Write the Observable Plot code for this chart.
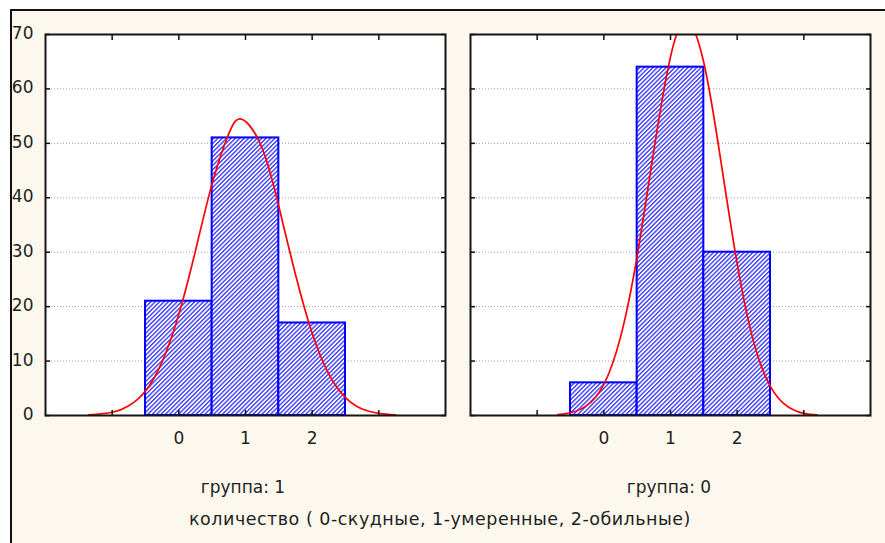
<!DOCTYPE html>
<html>
<head>
<meta charset="utf-8">
<script src="https://cdn.jsdelivr.net/npm/d3@7"></script>
<script src="https://cdn.jsdelivr.net/npm/@observablehq/plot@0.6"></script>
<style>
  html, body { margin: 0; padding: 0; background: #ffffff; }
  #wrap { position: relative; width: 885px; height: 543px; overflow: hidden; background: #ffffff;
          font-family: "DejaVu Sans", sans-serif; color: #222; }
  #panel { position: absolute; left: 10px; top: 9px; right: 0; bottom: 0; background: #fdf8ed;
           border-left: 2px solid #111; border-top: 2px solid #111; overflow: hidden; }
  .chart { position: absolute; }
  .lbl { position: absolute; transform: translateX(-50%); white-space: nowrap; font-size: 17px; color: #1e1e1e; }
  .cap { font-size: 17.5px; letter-spacing: 0.5px; }
</style>
</head>
<body>
<svg width="0" height="0" style="position:absolute">
  <defs>
    <pattern id="hatch" patternUnits="userSpaceOnUse" width="3.1" height="3.1" patternTransform="rotate(45)">
      <rect width="3.1" height="3.1" fill="#ffffff"></rect>
      <line x1="0.7" y1="-1" x2="0.7" y2="4.5" stroke="#3030ff" stroke-width="1.3"></line>
    </pattern>
  </defs>
</svg>
<div id="wrap">
  <div id="panel"></div>
</div>
<script>
// ---- data ----
const categories = [0, 1, 2];
const group1Counts = [21, 51, 17];   // группа: 1
const group0Counts = [6, 64, 30];    // группа: 0
const yTicks = [0, 10, 20, 30, 40, 50, 60, 70];
const gridTicks = [10, 20, 30, 40, 50, 60];
const xTickMarks = [-1, 0, 1, 2, 3];
const xLabels = [0, 1, 2];
const groupLabels = ["группа: 1", "группа: 0"];
const axisTitle = "количество ( 0-скудные, 1-умеренные, 2-обильные)";

// fitted normal curve (x, count)
const curve1X = [-1.35, -1.0, -0.75, -0.5, -0.25, 0, 0.25, 0.5, 0.75, 0.955, 1.25, 1.5, 1.75, 2.0, 2.25, 2.5, 2.75, 3.0, 3.25];
const curve1Y = [0.1, 0.6, 1.8, 4.5, 9.9, 18.6, 30.3, 42.6, 51.8, 54.4, 49.1, 38.4, 25.9, 15.1, 7.6, 3.3, 1.2, 0.4, 0.1];
const curve0X = [-0.69, -0.5, -0.25, 0, 0.25, 0.5, 0.75, 1.0, 1.24, 1.5, 1.75, 2.0, 2.25, 2.5, 2.75, 3.0, 3.2];
const curve0Y = [0.15, 0.5, 1.85, 5.7, 14.4, 29.3, 48.7, 65.9, 72.5, 64.8, 47.2, 27.9, 13.4, 5.3, 1.7, 0.4, 0.1];

const font = "\"DejaVu Sans\", sans-serif";

function makePanel(counts, cx, cy, showYLabels, width, marginLeft, marginRight) {
  const bars = categories.map((c, i) => ({c, v: counts[i]}));
  const curve = cx.map((x, i) => ({x, y: cy[i]}));
  const tickStyle = {tickSize: -5, text: null, label: null, stroke: "#111", strokeWidth: 1.5};
  const marks = [
    Plot.frame({fill: "#ffffff", stroke: null}),
    Plot.gridY({ticks: gridTicks, stroke: "#9a9a9a", strokeOpacity: 1, strokeWidth: 1, strokeDasharray: "1,2"}),
    Plot.rectY(bars, {x1: d => d.c - 0.5, x2: d => d.c + 0.5, y1: 0, y2: "v",
                      fill: "url(#hatch)", stroke: "#0000ff", strokeWidth: 2}),
    Plot.line(curve, {x: "x", y: "y", stroke: "#ff0000", strokeWidth: 1.7, curve: "natural", clip: true}),
    Plot.axisY({anchor: "left", ticks: yTicks, ...tickStyle}),
    Plot.axisY({anchor: "right", ticks: yTicks, ...tickStyle}),
    Plot.axisX({anchor: "bottom", ticks: xTickMarks, ...tickStyle}),
    Plot.axisX({anchor: "top", ticks: xTickMarks, ...tickStyle}),
    Plot.axisX({anchor: "bottom", ticks: xLabels, tickSize: 0, tickPadding: 16, label: null,
                tickFormat: d => String(d), fill: "#1e1e1e", fontSize: 17}),
    Plot.frame({stroke: "#151515", strokeWidth: 2})
  ];
  if (showYLabels) {
    marks.push(Plot.axisY({anchor: "left", ticks: yTicks, tickSize: 0, tickPadding: 12, label: null,
                           tickFormat: d => String(d), fill: "#1e1e1e", fontSize: 17, dy: -1}));
  }
  return Plot.plot({
    width, height: 460,
    marginLeft, marginRight, marginTop: 34, marginBottom: 45,
    x: {domain: [-2, 4], label: null},
    y: {domain: [0, 70], label: null},
    style: {fontFamily: font, fontSize: "17px", background: "transparent", overflow: "visible", color: "#1e1e1e"},
    marks
  });
}

const panel = document.getElementById("panel");
const offX = 12, offY = 11; // panel content origin in page coords

const left = makePanel(group1Counts, curve1X, curve1Y, true, 452, 45, 7);
left.classList.add("chart");
left.style.left = (0 - offX) + "px";
left.style.top = (0 - offY) + "px";
panel.appendChild(left);

const right = makePanel(group0Counts, curve0X, curve0Y, false, 440, 18, 22);
right.classList.add("chart");
right.style.left = (452 - offX) + "px";
right.style.top = (0 - offY) + "px";
panel.appendChild(right);

function addLabel(text, x, y, cls) {
  const d = document.createElement("div");
  d.className = "lbl" + (cls ? " " + cls : "");
  d.textContent = text;
  d.style.left = (x - offX) + "px";
  d.style.top = (y - offY) + "px";
  panel.appendChild(d);
}
addLabel(groupLabels[0], 243, 477);
addLabel(groupLabels[1], 669, 477);
addLabel(axisTitle, 440, 509, "cap");
</script>
</body>
</html>
